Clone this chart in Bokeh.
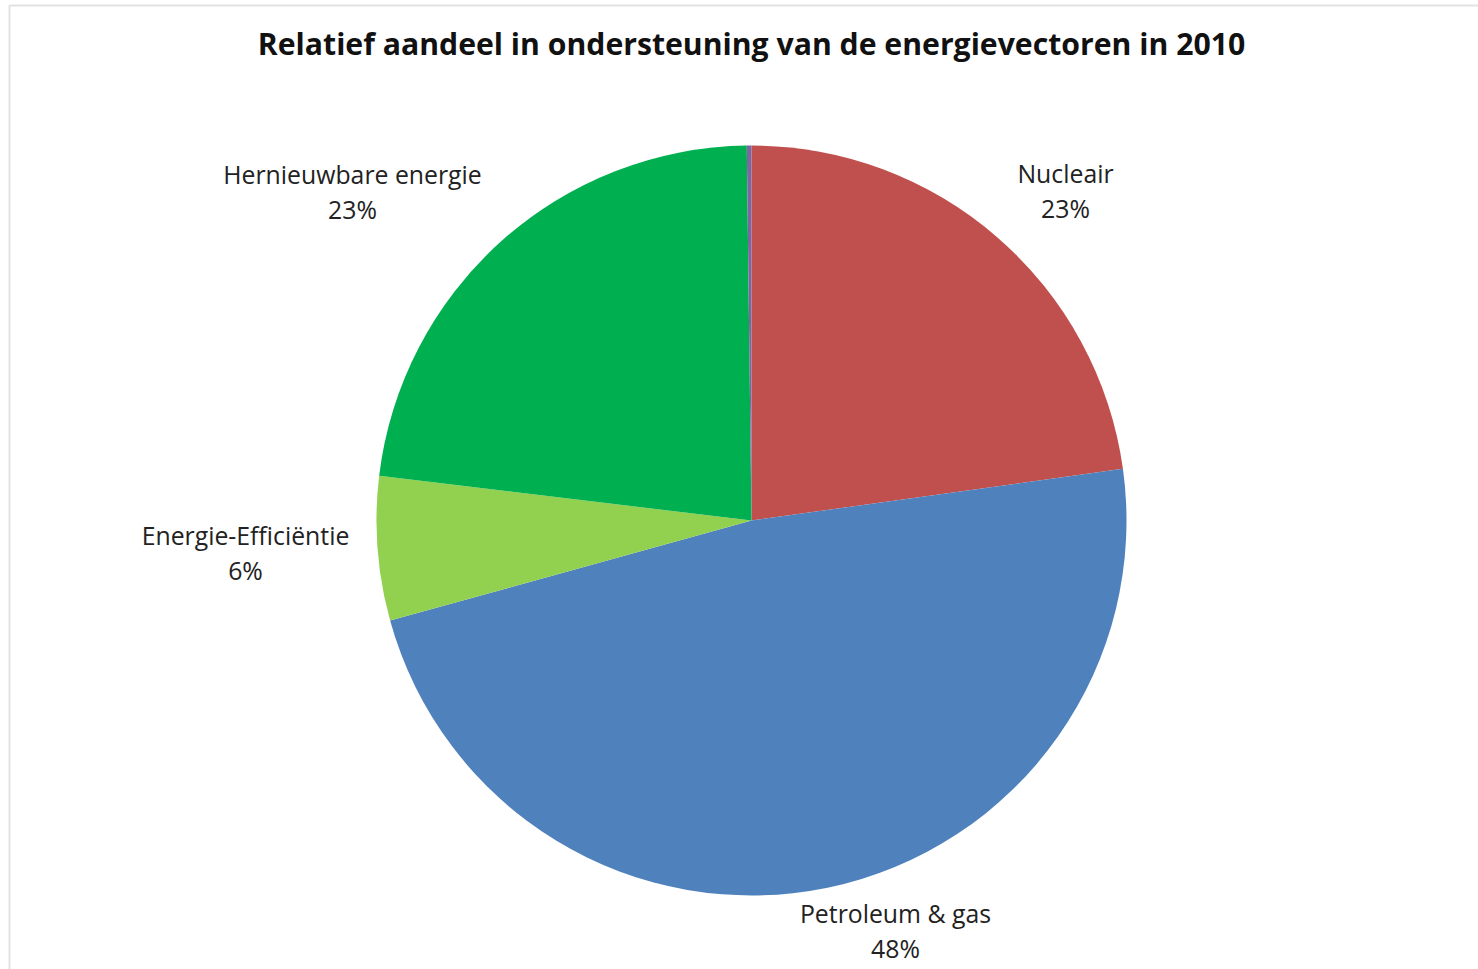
import math
from bokeh.plotting import figure
from bokeh.models import Range1d, BoxAnnotation, ColumnDataSource
from bokeh.core.properties import value
from bokeh.embed import file_html
from bokeh.resources import INLINE

# ---- data ----
categories = ["Nucleair", "Petroleum & gas", "Energie-Efficiëntie", "Hernieuwbare energie", "Overig"]
shares = [22.8, 47.9, 6.2, 22.9, 0.2]
pct_labels = ["23%", "48%", "6%", "23%", ""]
colors = ["#C0504D", "#4F81BD", "#92D050", "#00B050", "#8064A2"]
title = "Relatief aandeel in ondersteuning van de energievectoren in 2010"

# ---- layout (pixels) ----
W, H = 1478, 969
cx, cy, R = 751, 520, 375
# label block centres as offsets from pie centre (pixels, y down)
label_offsets = [(314, -330), (144, 410), (-506, 32), (-399, -329), None]

total = sum(shares)
starts, ends = [], []
cum = 0.0
for s in shares:
    a0 = math.pi / 2 - 2 * math.pi * cum / total
    cum += s
    a1 = math.pi / 2 - 2 * math.pi * cum / total
    starts.append(a0)
    ends.append(a1)

src = ColumnDataSource(dict(start=starts, end=ends, color=colors, cat=categories))

p = figure(width=W, height=H, output_backend="svg", toolbar_location=None,
           x_range=Range1d(0, W), y_range=Range1d(0, H), min_border=0,
           background_fill_color="white", border_fill_color="white")
p.axis.visible = False
p.grid.visible = False
p.outline_line_color = None

p.wedge(x=cx, y=H - cy, radius=R, start_angle="start", end_angle="end",
        direction="clock", fill_color="color", line_color=None, source=src)

# frame of the chart area
p.add_layout(BoxAnnotation(left=9, right=W + 50, top=H - 5, bottom=-50,
                           fill_alpha=0, line_color="#A0A0A0", line_width=2))

lx, ly, lt = [], [], []
for cat, pct, off in zip(categories, pct_labels, label_offsets):
    if off is None:
        continue
    lx.append(cx + off[0])
    ly.append(H - (cy + off[1]))
    lt.append(cat + "\n" + pct)

p.text(x=lx, y=ly, text=lt, text_align="center", text_baseline="middle",
       text_font=value("Open Sans"), text_font_size="24.8px", text_color="#222222",
       text_line_height=1.04)

p.text(x=[cx], y=[H - 43], text=[title], text_align="center", text_baseline="middle",
       text_font=value("Open Sans"), text_font_style="bold", text_font_size="30.2px",
       text_color="#111111")

open("out.html", "w").write(file_html(p, INLINE))
